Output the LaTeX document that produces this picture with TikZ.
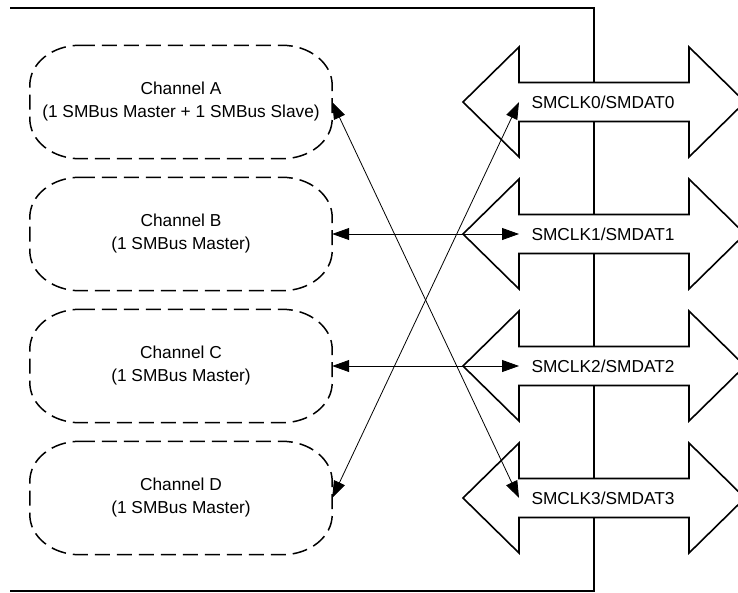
\documentclass[tikz,border=0pt]{standalone}
\usepackage{fontspec}
\setmainfont{Liberation Sans}
\usetikzlibrary{arrows.meta}

\begin{document}
\begin{tikzpicture}[x=1pt,y=-1pt,>={Triangle[length=17pt,width=12pt]},every node/.style={font=\fontsize{17.3}{23}\selectfont}]
    \useasboundingbox (0,0) rectangle (738,592);

    % Dış çerçeve (sol kenar açık)
    \draw[line width=2.8pt] (10,8) -- (594,8) -- (594,591) -- (10,591);

    % Kanallar (kesikli, eliptik köşeli kutular)
    \tikzset{kanal/.style={minimum width=302pt, minimum height=113pt, align=center}}
    \node[kanal] (chA) at (181,102) {Channel A\\(1 SMBus Master + 1 SMBus Slave)};
    \node[kanal] (chB) at (181,234) {Channel B\\(1 SMBus Master)};
    \node[kanal] (chC) at (181,366) {Channel C\\(1 SMBus Master)};
    \node[kanal] (chD) at (181,498) {Channel D\\(1 SMBus Master)};
    \foreach \c in {chA,chB,chC,chD}{
        \draw[dash pattern=on 15pt off 7pt, line width=1.5pt]
            ([xshift=50pt]\c.north west) -- ([xshift=-50pt]\c.north east)
            arc[start angle=90, end angle=0, x radius=50pt, y radius=40pt]
            -- ([yshift=40pt]\c.south east)
            arc[start angle=0, end angle=-90, x radius=50pt, y radius=40pt]
            -- ([xshift=50pt]\c.south west)
            arc[start angle=270, end angle=180, x radius=50pt, y radius=40pt]
            -- ([yshift=-40pt]\c.north west)
            arc[start angle=180, end angle=90, x radius=50pt, y radius=40pt] -- cycle;
    }

    % Çift yönlü blok oklar ve etiketleri
    \foreach \i/\y in {0/102,1/234,2/366,3/498}{
        \draw[line width=1.6pt, fill=white] (463,\y) -- (519,\y-55) -- (519,\y-19.5) -- (689,\y-19.5) -- (689,\y-55) -- (745,\y)
            -- (689,\y+55) -- (689,\y+19.5) -- (519,\y+19.5) -- (519,\y+55) -- cycle;
        \node (s\i) at (603,\y) {SMCLK\i/SMDAT\i};
        \coordinate (p\i) at (519,\y);
    }

    % Bağlantılar (kanal -> pin)
    \draw[<->, line width=0.8pt] (chA.east) -- (p3);
    \draw[<->, line width=0.8pt] (chB.east) -- (p1);
    \draw[<->, line width=0.8pt] (chC.east) -- (p2);
    \draw[<->, line width=0.8pt] (chD.east) -- (p0);
\end{tikzpicture}
\end{document}
